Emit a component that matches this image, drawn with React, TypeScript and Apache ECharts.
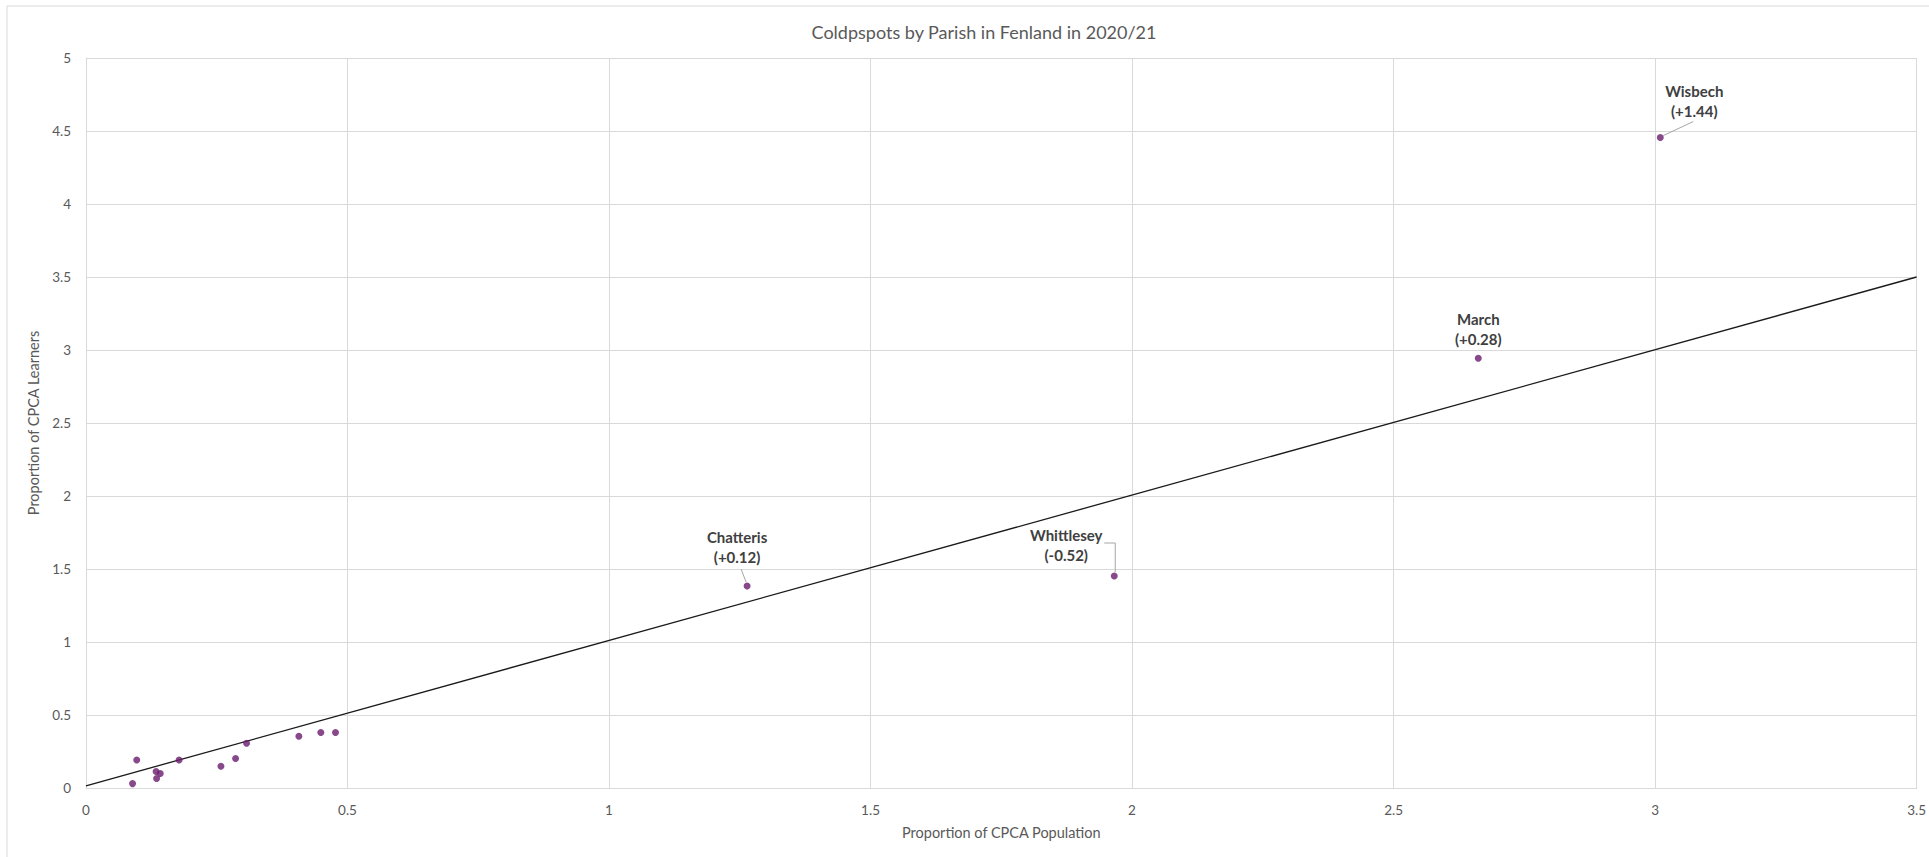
import React, { useEffect, useRef } from "react";
import * as echarts from "echarts";

// ---- Data ----
const chartTitle = "Coldpspots by Parish in Fenland in 2020/21";
const xAxisName = "Proportion of CPCA Population";
const yAxisName = "Proportion of CPCA Learners";

// small parishes (unlabelled)
const parishPop = [0.089, 0.097, 0.134, 0.142, 0.135, 0.178, 0.258, 0.286, 0.307, 0.407, 0.449, 0.477];
const parishLearners = [0.030, 0.192, 0.113, 0.099, 0.065, 0.192, 0.149, 0.202, 0.307, 0.355, 0.380, 0.380];

// labelled towns
const townNames = ["Wisbech", "March", "Whittlesey", "Chatteris"];
const townPop = [3.010, 2.662, 1.966, 1.264];
const townLearners = [4.455, 2.944, 1.452, 1.383];
const townGap = ["+1.44", "+0.28", "-0.52", "+0.12"];

// parity line
const parityX = [0, 3.5];
const parityY = [0.015, 3.5];

// ---- label placement (pixels relative to the point) ----
const labelPlacement: Record<string, { dx: number; dy: number; leader: number[][] | null }> = {
  Wisbech: { dx: 34, dy: -37, leader: [[33, -16], [3, -2]] },
  March: { dx: 0, dy: -29, leader: null },
  Whittlesey: { dx: -48, dy: -31, leader: [[-10, -33], [1, -33], [1, -4]] },
  Chatteris: { dx: -10, dy: -39, leader: [[-6, -17], [-1, -4]] },
};

const FONT = "Lato, 'Open Sans', sans-serif";

export default function App() {
  const ref = useRef<HTMLDivElement>(null);

  useEffect(() => {
    if (!ref.current) return;
    const chart = echarts.init(ref.current, undefined, { renderer: "svg" });

    const scatterData = [
      ...parishPop.map((x, i) => [x, parishLearners[i]]),
      ...townPop.map((x, i) => [x, townLearners[i]]),
    ];
    const townData = townPop.map((x, i) => [x, townLearners[i], i]);
    const lineData = parityX.map((x, i) => [x, parityY[i]]);

    const grey = "#d9d9d9";
    const tickColor = "#595959";

    chart.setOption({
      animation: false,
      backgroundColor: "#ffffff",
      textStyle: { fontFamily: FONT },
      title: {
        text: chartTitle,
        left: 979,
        textAlign: "center",
        top: 18,
        textStyle: { fontFamily: FONT, fontSize: 18, fontWeight: "normal", color: tickColor },
      },
      graphic: [
        {
          type: "rect",
          shape: { x: 7, y: 6, width: 1940, height: 870 },
          style: { fill: "none", stroke: grey, lineWidth: 1 },
          silent: true,
          z: -1,
        },
      ],
      grid: { left: 86, right: 6, top: 58, bottom: 69, containLabel: false },
      xAxis: {
        type: "value",
        min: 0,
        max: 3.5,
        interval: 0.5,
        name: xAxisName,
        nameLocation: "middle",
        nameGap: 37,
        nameTextStyle: { fontFamily: FONT, fontSize: 14.5, color: tickColor },
        axisLine: { show: true, lineStyle: { color: grey, width: 1 } },
        axisTick: { show: false },
        axisLabel: { margin: 15, fontFamily: FONT, fontSize: 13.5, color: tickColor },
        splitLine: { show: true, showMinLine: true, showMaxLine: true, lineStyle: { color: grey, width: 1 } },
      },
      yAxis: {
        type: "value",
        min: 0,
        max: 5,
        interval: 0.5,
        name: yAxisName,
        nameLocation: "middle",
        nameGap: 42,
        nameTextStyle: { fontFamily: FONT, fontSize: 14.5, color: tickColor },
        axisLine: { show: true, lineStyle: { color: grey, width: 1 } },
        axisTick: { show: false },
        axisLabel: { margin: 15, fontFamily: FONT, fontSize: 13.5, color: tickColor },
        splitLine: { show: true, showMinLine: true, showMaxLine: true, lineStyle: { color: grey, width: 1 } },
      },
      series: [
        {
          type: "line",
          data: lineData,
          showSymbol: false,
          symbol: "none",
          lineStyle: { color: "#1a1a1a", width: 1.3 },
          z: 2,
          silent: true,
        },
        {
          type: "scatter",
          data: scatterData,
          symbol: "circle",
          symbolSize: 7,
          itemStyle: { color: "#6a1b6e" },
          z: 3,
        },
        {
          type: "custom",
          data: townData,
          clip: false,
          silent: true,
          z: 4,
          renderItem: (params: any, api: any) => {
            const idx = api.value(2);
            const name = townNames[idx];
            const p = api.coord([api.value(0), api.value(1)]);
            const place = labelPlacement[name];
            const children: any[] = [
              {
                type: "text",
                style: {
                  text: `${name}\n(${townGap[idx]})`,
                  x: p[0] + place.dx,
                  y: p[1] + place.dy,
                  align: "center",
                  verticalAlign: "middle",
                  fill: "#404040",
                  font: `bold 15px ${FONT}`,
                  lineHeight: 20,
                },
              },
            ];
            if (place.leader) {
              children.push({
                type: "polyline",
                shape: { points: place.leader.map((o) => [p[0] + o[0], p[1] + o[1]]) },
                style: { stroke: "#a6a6a6", lineWidth: 1, fill: "none" },
              });
            }
            return { type: "group", children };
          },
        },
      ],
    });

    return () => chart.dispose();
  }, []);

  return (
    <div
      ref={ref}
      style={{ position: "absolute", left: 0, top: 0, width: 1929, height: 857, background: "#fff" }}
    />
  );
}
